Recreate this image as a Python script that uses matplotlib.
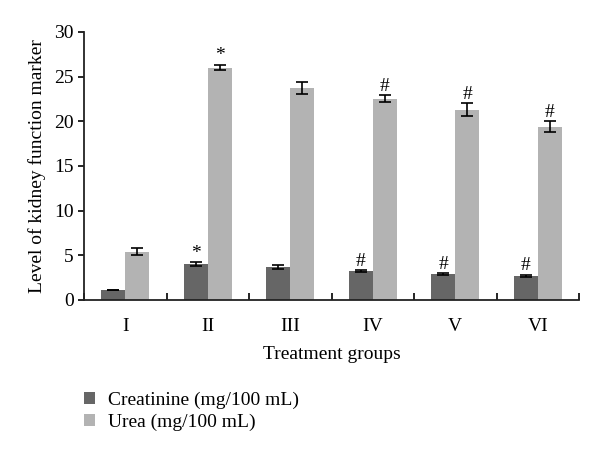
import matplotlib.pyplot as plt
import numpy as np

plt.rcParams['font.family'] = ['Liberation Serif', 'DejaVu Serif']

groups = ['I', 'II', 'III', 'IV', 'V', 'VI']
creatinine = [1.1, 4.0, 3.7, 3.2, 2.9, 2.7]
creatinine_err = [0.05, 0.2, 0.25, 0.1, 0.1, 0.1]
urea = [5.4, 26.0, 23.7, 22.5, 21.3, 19.4]
urea_err = [0.4, 0.3, 0.7, 0.4, 0.7, 0.6]
creatinine_marks = ['', '*', '', '#', '#', '#']
urea_marks = ['', '*', '', '#', '#', '#']

x = np.arange(len(groups))
w = 0.29
fs = 14

fig = plt.figure(figsize=(6, 4.55), dpi=100)
ax = fig.add_axes([0.14, 0.341, 0.825, 0.589])

ebar = dict(ecolor='black', capsize=4, elinewidth=1.2, capthick=1.2)
b1 = ax.bar(x - w / 2, creatinine, w, yerr=creatinine_err, color='#666666',
            error_kw=ebar, label='Creatinine (mg/100 mL)')
b2 = ax.bar(x + w / 2, urea, w, yerr=urea_err, color='#b3b3b3',
            error_kw=ebar, label='Urea (mg/100 mL)')

for i in range(len(groups)):
    if creatinine_marks[i]:
        ax.text(x[i] - w / 2, creatinine[i] + creatinine_err[i] + 0.05,
                creatinine_marks[i], ha='center', va='bottom', fontsize=fs)
    if urea_marks[i]:
        ax.text(x[i] + w / 2, urea[i] + urea_err[i] + 0.05,
                urea_marks[i], ha='center', va='bottom', fontsize=fs)

ax.set_xlim(-0.5, len(groups) - 0.5)
ax.set_ylim(0, 30)
ax.set_yticks(range(0, 31, 5))
ax.set_xticks(x)
ax.set_xticklabels(groups)
ax.set_xticks(np.arange(-0.5, len(groups), 1), minor=True)
ax.tick_params(axis='x', which='major', length=0, pad=13, labelsize=fs)
ax.tick_params(axis='x', which='minor', length=5, width=1.2, direction='in')
ax.tick_params(axis='y', length=4, width=1.2, labelsize=fs, direction='out')
for s in ['top', 'right']:
    ax.spines[s].set_visible(False)
for s in ['left', 'bottom']:
    ax.spines[s].set_linewidth(1.3)
    ax.spines[s].set_color('#222222')

ax.set_ylabel('Level of kidney function marker', fontsize=fs, labelpad=6)
ax.set_xlabel('Treatment groups', fontsize=fs, labelpad=8)

fig.legend(handles=[b1, b2], loc='upper left', bbox_to_anchor=(0.123, 0.161),
           frameon=False, fontsize=fs, handlelength=0.57, handleheight=0.57,
           handletextpad=0.7, labelspacing=0.25, borderpad=0)

fig.savefig('out.png', dpi=100)
